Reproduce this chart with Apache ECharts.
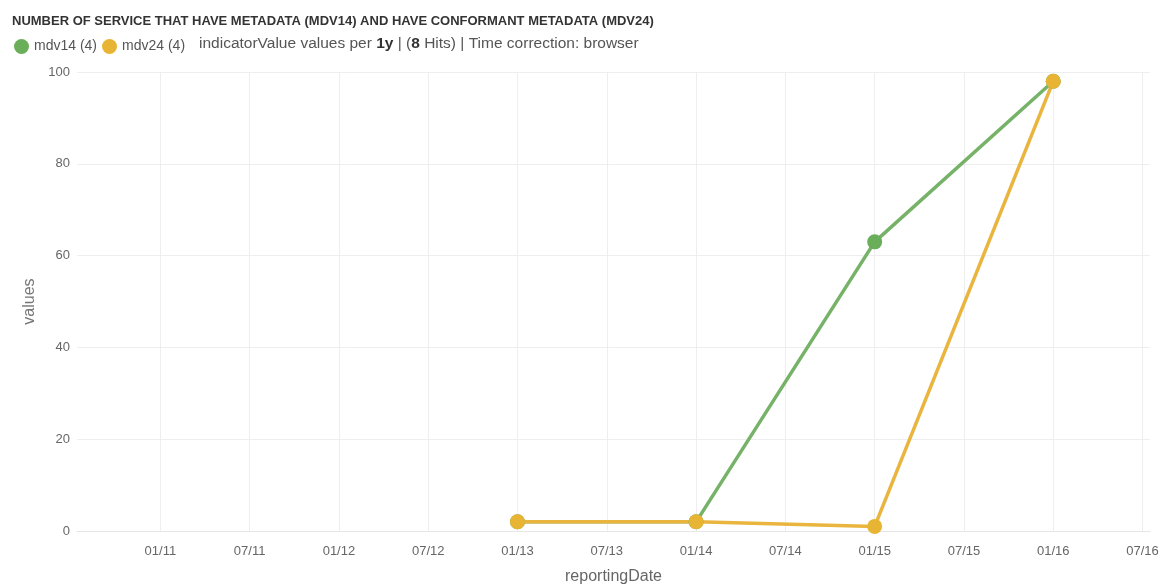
<!DOCTYPE html>
<html><head><meta charset="utf-8">
<script src="https://cdn.jsdelivr.net/npm/echarts@6/dist/echarts.min.js"></script>
<style>html,body{margin:0;padding:0;background:#fff}#c{width:1171px;height:586px}</style>
</head><body><div id="c"></div>
<script>
const dates = ['2013-01','2014-01','2015-01','2016-01'];
const mdv14 = [2, 2, 63, 98];
const mdv24 = [2, 2, 1, 98];
const tickDates = ['2011-01','2011-07','2012-01','2012-07','2013-01','2013-07','2014-01','2014-07','2015-01','2015-07','2016-01','2016-07'];
const xMin = -5.6;   // months relative to 2011-01
const xMax = 66.5;

const mIdx = s => { const [y, m] = s.split('-').map(Number); return (y - 2011) * 12 + (m - 1); };
const pad = n => (n < 10 ? '0' : '') + n;
const fmt = v => { const r = Math.round(v); const y = 2011 + Math.floor(r / 12); const m = ((r % 12) + 12) % 12 + 1; return pad(m) + '/' + pad(y % 100); };
const tickVals = tickDates.map(mIdx);
const FF = 'Liberation Sans, Arial, sans-serif';

const chart = echarts.init(document.getElementById('c'));
chart.setOption({
  animation: false,
  color: ['#6fb05e', '#e8b53a'],
  title: {
    text: 'NUMBER OF SERVICE THAT HAVE METADATA (MDV14) AND HAVE CONFORMANT METADATA (MDV24)',
    left: 7, top: 10,
    textStyle: { fontFamily: FF, fontSize: 13, fontWeight: 'bold', color: '#333' }
  },
  legend: {
    left: 9, top: 34, itemGap: 5, itemWidth: 15, itemHeight: 15, icon: 'circle',
    formatter: n => n + ' (4)',
    textStyle: { fontFamily: FF, fontSize: 14, color: '#555' },
    data: ['mdv14', 'mdv24']
  },
  graphic: [{
    type: 'text', left: 199, top: 36,
    style: {
      text: '{n|indicatorValue values per }{b|1y}{n| | (}{b|8}{n| Hits) | Time correction: browser}',
      rich: {
        n: { fontFamily: FF, fontSize: 15.5, fill: '#555', color: '#555' },
        b: { fontFamily: FF, fontSize: 15.5, fontWeight: 'bold', fill: '#333', color: '#333' }
      }
    }
  }],
  grid: { left: 77, right: 21, top: 72, bottom: 55, outerBoundsMode: 'none', containLabel: false },
  xAxis: {
    type: 'value',
    min: xMin, max: xMax,
    name: 'reportingDate', nameLocation: 'middle', nameGap: 38,
    nameTextStyle: { fontFamily: FF, fontSize: 16, color: '#666' },
    axisLine: { show: true, lineStyle: { color: '#e6e6e6' } },
    axisTick: { show: false, customValues: tickVals },
    axisLabel: { customValues: tickVals, formatter: fmt, color: '#666', fontSize: 13, fontFamily: FF, margin: 14 },
    splitLine: { show: true, lineStyle: { color: '#eeeeee' } }
  },
  yAxis: {
    type: 'value', min: 0, max: 100, interval: 20,
    name: 'values', nameLocation: 'middle', nameGap: 32,
    nameTextStyle: { fontFamily: FF, fontSize: 16, color: '#777' },
    axisLine: { show: false }, axisTick: { show: false },
    axisLabel: { color: '#666', fontSize: 13, fontFamily: FF, margin: 7 },
    splitLine: { show: true, lineStyle: { color: '#eeeeee' } }
  },
  series: [
    { name: 'mdv14', type: 'line', data: dates.map((d, i) => [mIdx(d), mdv14[i]]),
      symbol: 'circle', symbolSize: 15, lineStyle: { width: 3.5, color: '#76b268' }, itemStyle: { color: '#6aae59' } },
    { name: 'mdv24', type: 'line', data: dates.map((d, i) => [mIdx(d), mdv24[i]]),
      symbol: 'circle', symbolSize: 15, lineStyle: { width: 3.5, color: '#e9b53e' }, itemStyle: { color: '#e8b434' } }
  ]
});
</script></body></html>
